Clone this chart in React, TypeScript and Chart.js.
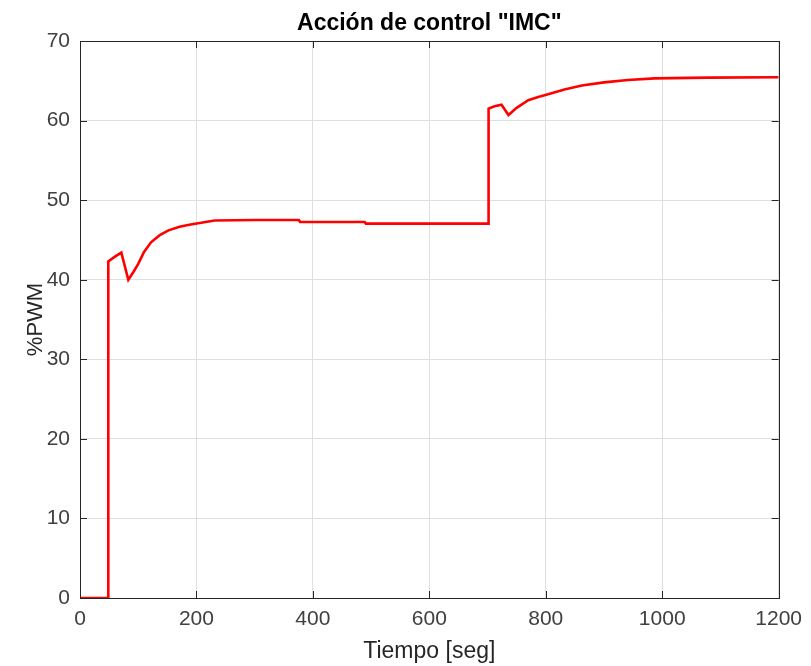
import React, { useEffect, useRef } from "react";
import { Chart, registerables } from "chart.js";

Chart.register(...registerables);

const titleText = 'Acción de control "IMC"';
const xLabel = "Tiempo [seg]";
const yLabel = "%PWM";

const timeSec = [0, 48.5, 48.6, 60, 71, 83, 92, 100, 110, 122, 137, 152, 171, 190, 208, 231, 300, 376, 378, 489, 491, 600, 701.7, 701.8, 712, 724, 736, 750, 770, 787, 804, 832, 862, 900, 941, 987, 1078, 1200];
const pwmValues = [0, 0, 42.3, 42.9, 43.4, 40.0, 41.0, 42.0, 43.5, 44.7, 45.6, 46.2, 46.65, 46.95, 47.15, 47.45, 47.5, 47.5, 47.25, 47.25, 47.05, 47.05, 47.05, 61.5, 61.8, 62.0, 60.7, 61.6, 62.55, 62.95, 63.3, 63.9, 64.4, 64.8, 65.1, 65.3, 65.4, 65.45];

const xTicks = [0, 200, 400, 600, 800, 1000, 1200];
const yTicks = [0, 10, 20, 30, 40, 50, 60, 70];

const FONT = "'Liberation Sans', Arial, Helvetica, sans-serif";
const AXIS_COLOR = "#262626";

const boxPlugin = {
  id: "matlabBox",
  afterDatasetsDraw(chart: any) {
    const { ctx, chartArea } = chart;
    const { left, right, top, bottom } = chartArea;
    const xs = chart.scales.x;
    const ys = chart.scales.y;
    ctx.save();
    ctx.strokeStyle = AXIS_COLOR;
    ctx.lineWidth = 1;
    const tl = 7;
    ctx.beginPath();
    xTicks.forEach((v) => {
      const px = Math.round(xs.getPixelForValue(v)) + 0.5;
      ctx.moveTo(px, bottom);
      ctx.lineTo(px, bottom - tl);
      ctx.moveTo(px, top);
      ctx.lineTo(px, top + tl);
    });
    yTicks.forEach((v) => {
      const py = Math.round(ys.getPixelForValue(v)) + 0.5;
      ctx.moveTo(left, py);
      ctx.lineTo(left + tl, py);
      ctx.moveTo(right, py);
      ctx.lineTo(right - tl, py);
    });
    ctx.stroke();
    ctx.strokeRect(Math.round(left) + 0.5, Math.round(top) + 0.5, Math.round(right - left), Math.round(bottom - top));
    ctx.restore();
  },
};

export default function App() {
  const ref = useRef<HTMLCanvasElement | null>(null);
  useEffect(() => {
    if (!ref.current) return;
    const data = timeSec.map((t, i) => ({ x: t, y: pwmValues[i] }));
    const chart = new Chart(ref.current, {
      type: "line",
      data: {
        datasets: [
          {
            data,
            borderColor: "#ff0000",
            borderWidth: 2.6,
            pointRadius: 0,
            tension: 0,
            fill: false,
          },
        ],
      },
      options: {
        animation: false,
        responsive: false,
        maintainAspectRatio: false,
        layout: { padding: { left: 0, right: 28, top: 0, bottom: 0 } },
        plugins: {
          legend: { display: false },
          tooltip: { enabled: false },
          title: {
            display: true,
            text: titleText,
            fullSize: false,
            color: "#000000",
            font: { family: FONT, size: 23, weight: "bold", lineHeight: 1.2 },
            padding: { top: 10, bottom: 3.4 },
          },
        },
        scales: {
          x: {
            type: "linear",
            min: 0,
            max: 1200,
            afterBuildTicks: (s: any) => {
              s.ticks = xTicks.map((v) => ({ value: v }));
            },
            afterFit: (s: any) => {
              s.height = 68;
            },
            grid: { color: "#dfdfdf", drawTicks: false, lineWidth: 1 },
            border: { display: false },
            ticks: {
              color: "#404040",
              font: { family: FONT, size: 21 },
              padding: 9,
              maxRotation: 0,
              callback: (v: any) => String(v),
            },
            title: {
              display: true,
              text: xLabel,
              color: "#262626",
              font: { family: FONT, size: 23, lineHeight: 1.2 },
              padding: 1,
            },
          },
          y: {
            type: "linear",
            min: 0,
            max: 70,
            afterBuildTicks: (s: any) => {
              s.ticks = yTicks.map((v) => ({ value: v }));
            },
            afterFit: (s: any) => {
              s.width = 80;
            },
            grid: { color: "#dfdfdf", drawTicks: false, lineWidth: 1 },
            border: { display: false },
            ticks: {
              color: "#404040",
              font: { family: FONT, size: 21 },
              padding: 10,
              callback: (v: any) => String(v),
            },
            title: {
              display: true,
              text: yLabel,
              color: "#262626",
              font: { family: FONT, size: 22, lineHeight: 1.2 },
              padding: 23,
            },
          },
        },
      },
      plugins: [boxPlugin],
    });
    return () => chart.destroy();
  }, []);
  return (
    <div style={{ position: "absolute", left: 0, top: 0, width: 811, height: 666, background: "#ffffff" }}>
      <canvas ref={ref} width={811} height={666} style={{ width: 811, height: 666, display: "block" }} />
    </div>
  );
}
